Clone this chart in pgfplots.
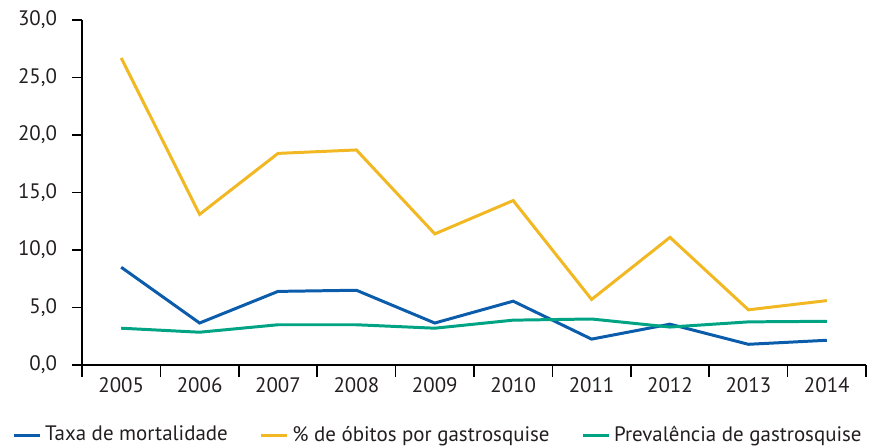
\documentclass[border=0pt]{standalone}
\usepackage{pgfplots}
\pgfplotsset{compat=1.18}
\usepackage{fontspec}
\setmainfont{PT Sans}
\definecolor{cblue}{HTML}{0B5CAB}
\definecolor{cyellow}{HTML}{F1B823}
\definecolor{cgreen}{HTML}{00A383}
\definecolor{ctext}{HTML}{231F20}
\begin{document}
\begin{tikzpicture}
\useasboundingbox (0,0) rectangle (435.5bp,224bp);
\begin{axis}[
  at={(41bp,41.5bp)}, anchor=south west,
  scale only axis,
  width=392bp, height=172.5bp,
  xmin=-0.5, xmax=9.5,
  ymin=0, ymax=30,
  axis x line=bottom, axis y line=left,
  axis line style={-, black, line width=0.8pt},
  xtick={0,...,9},
  xticklabels={2005,2006,2007,2008,2009,2010,2011,2012,2013,2014},
  major x tick style={draw=none},
  minor xtick={-0.5,0.5,...,9.5},
  minor tick length=6bp,
  minor x tick style={black, line width=0.8pt},
  xtick align=outside, ytick align=outside,
  ytick={0,5,...,30},
  major tick length=5bp,
  ytick style={black, line width=0.8pt},
  yticklabel style={xshift=-4bp, /pgf/number format/.cd, use comma, fixed, fixed zerofill, precision=1, assume math mode=true},
  tick label style={font=\fontsize{10.5}{12}\selectfont, text=ctext},
  xticklabel style={yshift=2bp},
  legend style={draw=none, fill=none, at={(1,-0.203)}, anchor=east, legend columns=-1,
    xshift=3bp,
    font=\fontsize{10.5}{12}\selectfont, text=ctext,
    /tikz/every even column/.append style={column sep=14bp}},
  legend image code/.code={\draw[#1, line width=1.5pt] (0cm,0cm) -- (0.45cm,0cm);},
  every axis plot/.append style={line width=1.5pt},
]
\addplot[cblue] coordinates {(0,8.5) (1,3.65) (2,6.4) (3,6.5) (4,3.65) (5,5.55) (6,2.25) (7,3.55) (8,1.8) (9,2.15)};
\addlegendentry{Taxa de mortalidade}
\addplot[cyellow] coordinates {(0,26.7) (1,13.1) (2,18.4) (3,18.7) (4,11.4) (5,14.3) (6,5.7) (7,11.1) (8,4.8) (9,5.6)};
\addlegendentry{\% de óbitos por gastrosquise}
\addplot[cgreen] coordinates {(0,3.2) (1,2.85) (2,3.5) (3,3.5) (4,3.2) (5,3.9) (6,4.0) (7,3.3) (8,3.75) (9,3.8)};
\addlegendentry{Prevalência de gastrosquise}
\end{axis}
\end{tikzpicture}
\end{document}
